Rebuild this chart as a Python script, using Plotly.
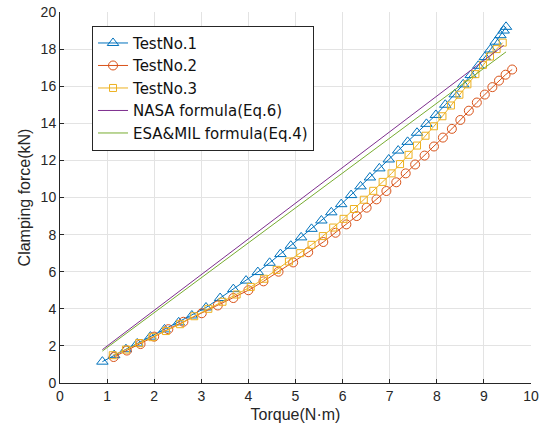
import plotly.graph_objects as go

# Test No.1 (triangles)
t1_x = [0.90, 1.15, 1.40, 1.64, 1.92, 2.22, 2.52, 2.80, 3.10, 3.40, 3.68, 3.95, 4.20, 4.45,
        4.68, 4.90, 5.12, 5.34, 5.55, 5.76, 5.97, 6.18, 6.38, 6.58, 6.78, 6.98, 7.18, 7.38,
        7.58, 7.78, 7.98, 8.18, 8.38, 8.56, 8.72, 8.88, 9.02, 9.14, 9.25, 9.35, 9.42, 9.47]
t1_y = [1.15, 1.50, 1.82, 2.13, 2.50, 2.89, 3.27, 3.64, 4.07, 4.58, 5.06, 5.52, 5.98, 6.48,
        6.95, 7.40, 7.85, 8.31, 8.76, 9.20, 9.64, 10.13, 10.60, 11.08, 11.57, 12.05, 12.53, 13.00,
        13.49, 13.97, 14.45, 15.00, 15.56, 16.10, 16.60, 17.10, 17.57, 17.98, 18.40, 18.75, 19.00, 19.20]

# Test No.2 (circles)
t2_x = [1.14, 1.42, 1.71, 2.00, 2.30, 2.62, 3.01, 3.35, 3.68, 4.00, 4.32, 4.64, 4.95, 5.27,
        5.59, 5.85, 6.08, 6.30, 6.51, 6.72, 6.93, 7.14, 7.34, 7.54, 7.74, 7.94, 8.13, 8.32,
        8.50, 8.68, 8.85, 9.02, 9.18, 9.32, 9.46, 9.60]
t2_y = [1.40, 1.75, 2.10, 2.50, 2.90, 3.30, 3.76, 4.18, 4.58, 5.00, 5.48, 6.00, 6.50, 7.05,
        7.60, 8.10, 8.55, 9.00, 9.45, 9.90, 10.35, 10.82, 11.30, 11.78, 12.26, 12.75, 13.23, 13.70,
        14.18, 14.68, 15.12, 15.55, 15.95, 16.30, 16.62, 16.90]

# Test No.3 (squares)
t3_x = [1.12, 1.40, 1.68, 1.96, 2.25, 2.55, 2.85, 3.15, 3.45, 3.75, 4.05, 4.33, 4.60, 4.86,
        5.10, 5.34, 5.58, 5.80, 6.02, 6.24, 6.45, 6.65, 6.85, 7.04, 7.22, 7.40, 7.58, 7.76,
        7.94, 8.12, 8.30, 8.48, 8.65, 8.82, 8.98, 9.13, 9.27, 9.40]
t3_y = [1.50, 1.80, 2.15, 2.47, 2.80, 3.17, 3.60, 4.00, 4.38, 4.77, 5.18, 5.62, 6.10, 6.55,
        7.00, 7.45, 7.92, 8.38, 8.85, 9.38, 9.88, 10.36, 10.84, 11.30, 11.80, 12.30, 12.80, 13.33,
        13.84, 14.38, 14.96, 15.54, 16.10, 16.65, 17.15, 17.60, 18.00, 18.35]

# Formula lines
nasa_x = [0.90, 9.42]
nasa_y = [1.80, 18.20]
esa_x = [0.90, 9.47]
esa_y = [1.72, 17.85]

x_ticks = [0, 1, 2, 3, 4, 5, 6, 7, 8, 9, 10]
y_ticks = [0, 2, 4, 6, 8, 10, 12, 14, 16, 18, 20]

C1, C2, C3, C4, C5 = "#0072BD", "#D95319", "#EDB120", "#7E2F8E", "#77AC30"
FONT = "Liberation Sans, Arial, sans-serif"

fig = go.Figure()
fig.add_trace(go.Scatter(x=t1_x, y=t1_y, mode="lines+markers", name="TestNo.1",
                         line=dict(color=C1, width=1),
                         marker=dict(symbol="triangle-up-open", size=10, color=C1, line=dict(width=1))))
fig.add_trace(go.Scatter(x=t2_x, y=t2_y, mode="lines+markers", name="TestNo.2",
                         line=dict(color=C2, width=1),
                         marker=dict(symbol="circle-open", size=9, color=C2, line=dict(width=1))))
fig.add_trace(go.Scatter(x=t3_x, y=t3_y, mode="lines+markers", name="TestNo.3",
                         line=dict(color=C3, width=1),
                         marker=dict(symbol="square-open", size=7, color=C3, line=dict(width=1))))
fig.add_trace(go.Scatter(x=nasa_x, y=nasa_y, mode="lines", name="NASA formula(Eq.6)",
                         line=dict(color=C4, width=1)))
fig.add_trace(go.Scatter(x=esa_x, y=esa_y, mode="lines", name="ESA&MIL formula(Eq.4)",
                         line=dict(color=C5, width=1)))

axis_common = dict(
    showgrid=True, gridcolor="#e3e3e3", gridwidth=1,
    showline=True, linecolor="#262626", linewidth=1,
    ticks="inside", ticklen=4, tickcolor="#262626",
    tickfont=dict(family=FONT, size=14, color="#262626"),
    zeroline=False, mirror=False, automargin=False,
    ticklabeloverflow="allow",
)

fig.update_layout(
    width=550, height=436,
    margin=dict(l=60, r=19, t=12, b=53),
    paper_bgcolor="white", plot_bgcolor="white",
    font=dict(family=FONT, color="#262626"),
    xaxis=dict(range=[0, 10], tickvals=x_ticks,
               title=dict(text="Torque(N·m)", font=dict(size=16), standoff=6), **axis_common),
    yaxis=dict(range=[0, 20], tickvals=y_ticks,
               title=dict(text="Clamping force(kN)", font=dict(size=16), standoff=6), **axis_common),
    legend=dict(x=0.068, y=0.963, xanchor="left", yanchor="top",
                bgcolor="white", bordercolor="#262626", borderwidth=1,
                font=dict(family="DejaVu Sans, sans-serif", size=15, color="#111111"),
                tracegroupgap=0, itemwidth=30),
    showlegend=True,
)

# remove the default 8 px page margin so the figure fills the window exactly
fig.write_html("out.html", config={"displayModeBar": False},
               post_script="document.body.style.margin='0px';")
